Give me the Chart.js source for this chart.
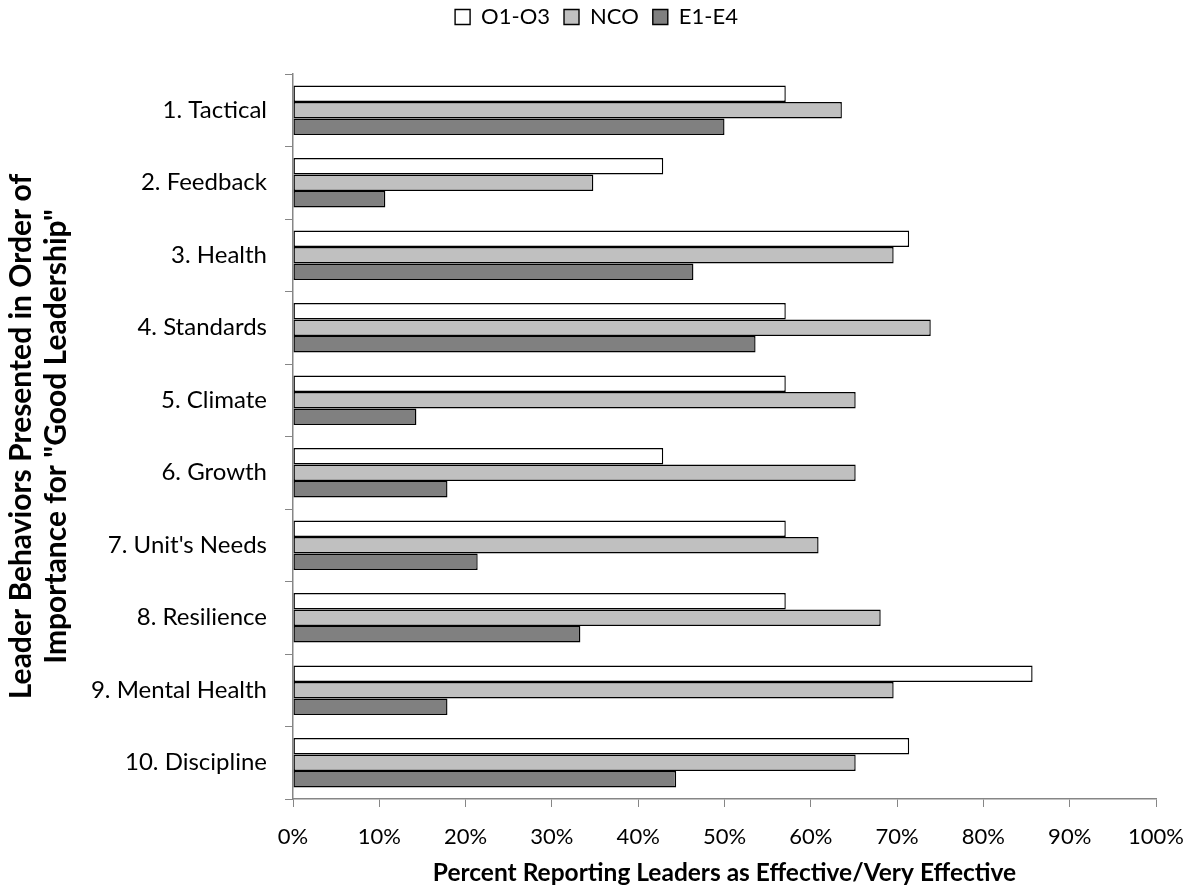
<!DOCTYPE html>
<html>
<head>
<meta charset="utf-8">
<script src="https://cdn.jsdelivr.net/npm/chart.js@4/dist/chart.umd.min.js"></script>
<style>
  html, body { margin: 0; padding: 0; background: #ffffff; }
  #wrap { width: 1193px; height: 888px; }
</style>
</head>
<body>
<div id="wrap"><canvas id="chart" width="1193" height="888"></canvas></div>
<script>
// Leader behaviors, listed in order of importance
const categories = [
  '1. Tactical', '2. Feedback', '3. Health', '4. Standards', '5. Climate',
  '6. Growth', "7. Unit's Needs", '8. Resilience', '9. Mental Health', '10. Discipline'
];

// Percent reporting leaders as effective / very effective, by rank group
const officerValues = [57.1, 42.9, 71.4, 57.1, 57.1, 42.9, 57.1, 57.1, 85.7, 71.4];
const ncoValues     = [63.6, 34.8, 69.6, 73.9, 65.2, 65.2, 60.9, 68.1, 69.6, 65.2];
const juniorValues  = [50.0, 10.7, 46.4, 53.6, 14.3, 17.9, 21.4, 33.3, 17.9, 44.4];

const seriesNames = ['O1-O3', 'NCO', 'E1-E4'];
const xTickValues = [0, 10, 20, 30, 40, 50, 60, 70, 80, 90, 100];

const axisGrey = '#868686';
const baseFont = 'Lato, "Open Sans", "Noto Sans", sans-serif';

Chart.defaults.color = '#000000';
Chart.defaults.font.family = baseFont;

// Reserve room under the legend before the plot starts, and centre
// the legend across the full canvas width
const legendSpacing = {
  id: 'legendSpacing',
  beforeInit(chart) {
    const originalFit = chart.legend.fit;
    chart.legend.fit = function fit() {
      originalFit.bind(chart.legend)();
      this.height = 74;
    };
  },
  afterLayout(chart) {
    const lg = chart.legend;
    lg.top = -8;
    lg.bottom = 66;
    lg.left = 0;
    lg.right = chart.width;
  }
};

const barStyle = { borderColor: '#000000', borderWidth: 1.4, borderSkipped: false };

new Chart(document.getElementById('chart'), {
  type: 'bar',
  data: {
    labels: categories,
    datasets: [
      { label: seriesNames[0], data: officerValues, backgroundColor: '#ffffff', ...barStyle },
      { label: seriesNames[1], data: ncoValues,     backgroundColor: '#c0c0c0', ...barStyle },
      { label: seriesNames[2], data: juniorValues,  backgroundColor: '#808080', ...barStyle }
    ]
  },
  options: {
    indexAxis: 'y',
    responsive: false,
    devicePixelRatio: 1,
    animation: false,
    layout: { padding: { left: 0, right: 37, top: 0, bottom: 0 } },
    datasets: { bar: { categoryPercentage: 0.683, barPercentage: 1.0 } },
    plugins: {
      legend: {
        position: 'top',
        align: 'center',
        labels: {
          boxWidth: 15,
          boxHeight: 15,
          padding: 14,
          color: '#000000',
          font: { size: 22, family: baseFont }
        }
      },
      tooltip: { enabled: false }
    },
    scales: {
      x: {
        type: 'linear',
        min: 0,
        max: 100,
        afterBuildTicks(scale) {
          scale.ticks = xTickValues.map(v => ({ value: v }));
        },
        afterFit(scale) {
          scale.height = 89;
          scale.paddingLeft = 0;
          scale.paddingRight = 0;
        },
        ticks: {
          callback: v => v + '%',
          padding: 17,
          font: { size: 22, family: baseFont },
          color: '#000000',
          maxRotation: 0
        },
        grid: {
          drawOnChartArea: false,
          drawTicks: true,
          tickLength: 8,
          color: axisGrey,
          lineWidth: 1
        },
        border: { display: true, color: axisGrey, width: 1.5 },
        title: {
          display: true,
          text: 'Percent Reporting Leaders as Effective/Very Effective',
          font: { size: 24.5, weight: 'bold', family: baseFont, lineHeight: 1.2 },
          color: '#000000',
          padding: { top: 0, bottom: 0 }
        }
      },
      y: {
        type: 'category',
        offset: true,
        afterFit(scale) { scale.width = 293; },
        ticks: {
          padding: 18,
          font: { size: 24, family: baseFont },
          color: '#000000'
        },
        grid: {
          offset: true,
          drawOnChartArea: false,
          drawTicks: true,
          tickLength: 8,
          color: axisGrey,
          lineWidth: 1
        },
        border: { display: true, color: axisGrey, width: 1.5 },
        title: {
          display: true,
          text: ['Leader Behaviors Presented in Order of', 'Importance for "Good Leadership"'],
          font: { size: 30, weight: 'bold', family: baseFont, lineHeight: 1.17 },
          color: '#000000',
          padding: { top: 4, bottom: 0 }
        }
      }
    }
  },
  plugins: [legendSpacing]
});
</script>
</body>
</html>
